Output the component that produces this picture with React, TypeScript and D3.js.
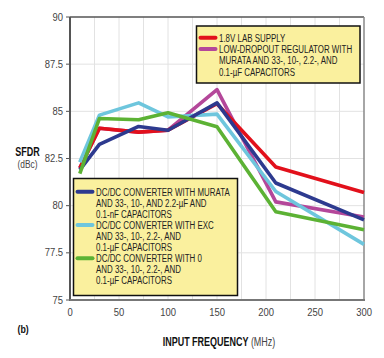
import React from "react";
import * as d3 from "d3";

const freqs = [10, 30, 70, 100, 150, 210, 300];
const seriesNames = ["ldo", "lab", "exc", "murata", "zero"];
const ldo = [82.0, 84.1, 83.9, 84.0, 86.15, 80.2, 79.4];
const lab = [82.0, 84.1, 83.9, 84.0, 85.4, 82.05, 80.7];
const exc = [82.3, 84.8, 85.45, 84.7, 84.85, 80.75, 77.95];
const murata = [81.9, 83.25, 84.2, 84.0, 85.45, 81.2, 79.25];
const zero = [81.7, 84.62, 84.55, 84.92, 84.18, 79.68, 78.72];
const seriesValues = [ldo, lab, exc, murata, zero];
const seriesColors = ["#b4479a", "#e2101b", "#6ec6dd", "#2d3a8f", "#5cb234"];

const xTicks = [0, 50, 100, 150, 200, 250, 300];
const yTicks = [75, 77.5, 80, 82.5, 85, 87.5, 90];
const xGrid = [25, 50, 75, 100, 125, 150, 175, 200, 225, 250, 275];

const legendTop = [
  { color: "#e2101b", lines: ["1.8V LAB SUPPLY"] },
  { color: "#b4479a", lines: ["LOW-DROPOUT REGULATOR WITH", "MURATA AND 33-, 10-, 2.2-, AND", "0.1-\u00b5F CAPACITORS"] },
];
const legendBottom = [
  { color: "#2d3a8f", lines: ["DC/DC CONVERTER WITH MURATA", "AND 33-, 10-, AND 2.2-\u00b5F AND", "0.1-nF CAPACITORS"] },
  { color: "#6ec6dd", lines: ["DC/DC CONVERTER WITH EXC", "AND 33-, 10-, 2.2-, AND", "0.1-\u00b5F CAPACITORS"] },
  { color: "#5cb234", lines: ["DC/DC CONVERTER WITH 0", "AND 33-, 10-, 2.2-, AND", "0.1-\u00b5F CAPACITORS"] },
];

const FONT = "'Liberation Sans', Arial, sans-serif";

function CText(props: {
  x: number; y: number; s?: number; size?: number; weight?: string; fill?: string; anchor?: string; children: React.ReactNode;
}) {
  const { x, y, s = 0.72, size = 11, weight = "normal", fill = "#222", anchor = "start", children } = props;
  return (
    <text transform={`translate(${x},${y}) scale(${s},1)`} fontFamily={FONT} fontSize={size}
      fontWeight={weight} fill={fill} textAnchor={anchor}>{children}</text>
  );
}

export default function App() {
  const L = 70, R = 364, T = 17, B = 300;
  const x = d3.scaleLinear().domain([0, 300]).range([L, R]);
  const y = d3.scaleLinear().domain([75, 90]).range([B, T]);
  const line = d3.line<number>().x((_, i) => x(freqs[i])).y((d) => y(d));

  const legend = (
    items: { color: string; lines: string[] }[],
    bx: number, by: number, bw: number, bh: number, firstY: number, lh: number, sx: number
  ) => {
    let row = 0;
    return (
      <g>
        <rect x={bx} y={by} width={bw} height={bh} fill="#faf09e" stroke="#111" strokeWidth={1.5} />
        {items.map((it, k) => {
          const start = row;
          row += it.lines.length;
          return (
            <g key={k}>
              <line x1={sx} x2={sx + 15} y1={firstY + start * lh - 3.8} y2={firstY + start * lh - 3.8}
                stroke={it.color} strokeWidth={4} strokeLinecap="round" />
              {it.lines.map((t, j) => (
                <CText key={j} x={sx + 18.5} y={firstY + (start + j) * lh}>{t}</CText>
              ))}
            </g>
          );
        })}
      </g>
    );
  };

  return (
    <svg width={384} height={358} style={{ position: "absolute", left: 0, top: 0, background: "#fff" }}>
      <rect x={0} y={0} width={384} height={358} fill="#fff" />
      {xGrid.map((v) => (
        <line key={"gx" + v} x1={x(v)} x2={x(v)} y1={T} y2={B} stroke="#e2e2e2" strokeWidth={1} />
      ))}
      {yTicks.slice(1, -1).map((v) => (
        <line key={"gy" + v} x1={L} x2={R} y1={y(v)} y2={y(v)} stroke="#e2e2e2" strokeWidth={1} />
      ))}
      <line x1={L} x2={R} y1={T} y2={T} stroke="#555" strokeWidth={1.5} />
      <line x1={R} x2={R} y1={T} y2={B} stroke="#888" strokeWidth={1.5} />
      {seriesValues.map((vals, i) => (
        <path key={seriesNames[i]} d={line(vals) || ""} fill="none" stroke={seriesColors[i]} strokeWidth={3.6} strokeLinejoin="round" />
      ))}
      <line x1={L} x2={L} y1={T} y2={B + 1} stroke="#555" strokeWidth={2} />
      <line x1={L - 1} x2={R + 1} y1={B} y2={B} stroke="#777" strokeWidth={2} />
      {yTicks.map((v) => (
        <g key={"yt" + v}>
          <line x1={L - 4} x2={L} y1={y(v)} y2={y(v)} stroke="#555" strokeWidth={1} />
          <CText x={L - 7} y={y(v) + 3.5} s={0.9} size={10.5} fill="#444" anchor="end">{String(v)}</CText>
        </g>
      ))}
      {xTicks.map((v) => (
        <CText key={"xt" + v} x={x(v)} y={316} s={0.9} size={10.5} fill="#444" anchor="middle">{String(v)}</CText>
      ))}
      <CText x={27.5} y={156} s={0.75} size={12} weight="bold" fill="#111" anchor="middle">SFDR</CText>
      <CText x={27.5} y={167.5} s={0.8} size={10.5} fill="#444" anchor="middle">(dBc)</CText>
      <CText x={17.5} y={333} s={0.8} size={11} weight="bold" fill="#111">(b)</CText>
      <text transform="translate(219,345.5) scale(0.72,1)" textAnchor="middle" fontFamily={FONT} fontSize={12.5}>
        <tspan fontWeight="bold" fill="#111">INPUT FREQUENCY </tspan>
        <tspan fill="#444">(MHz)</tspan>
      </text>
      {legend(legendTop, 196.5, 26, 163.5, 57, 41.5, 11.4, 200.5)}
      {legend(legendBottom, 73.5, 178.5, 164, 117, 195.5, 11.1, 77.5)}
    </svg>
  );
}
